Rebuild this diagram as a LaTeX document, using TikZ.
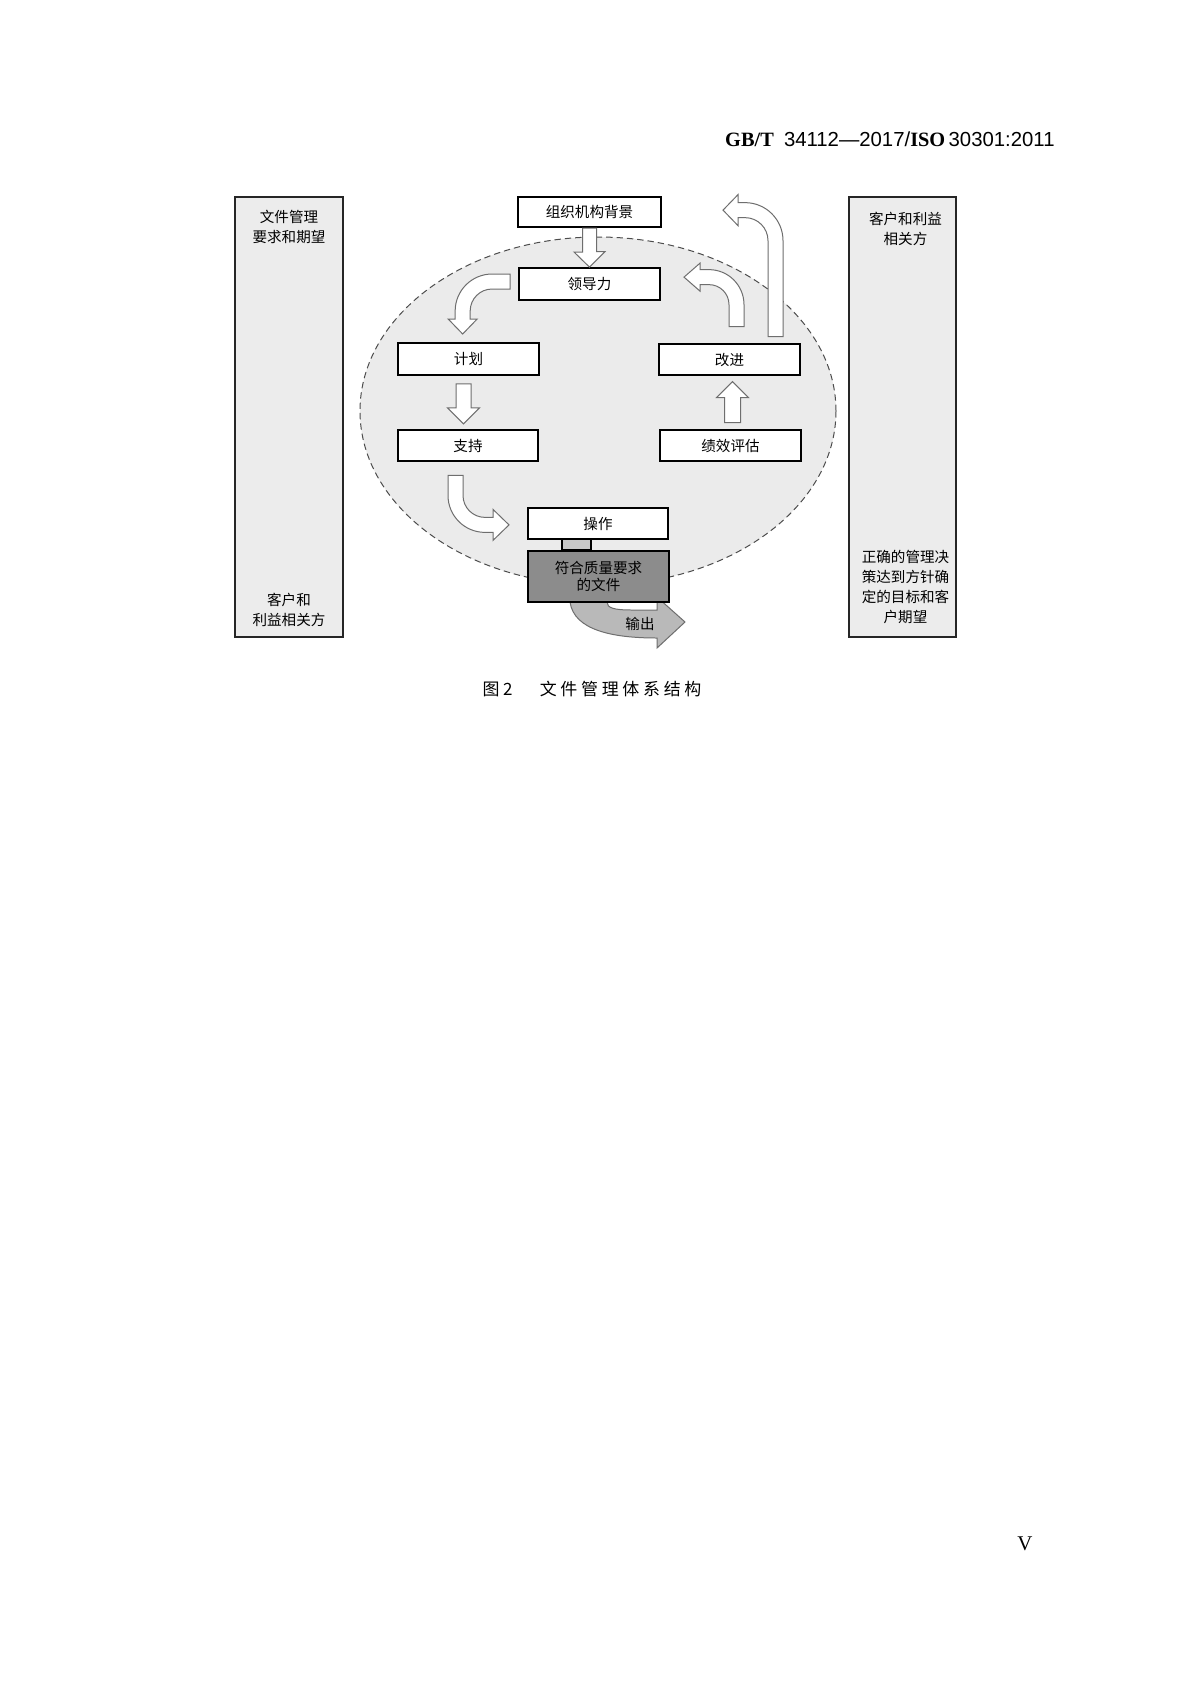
\documentclass[tikz,border=0pt]{standalone}
\usepackage{fontspec}
\setmainfont{Liberation Serif}
\newfontfamily\cjk{Noto Sans CJK SC}
\newfontfamily\capfont[LetterSpace=22]{Noto Sans CJK SC}
\newfontfamily\hsans{Liberation Sans}
\usetikzlibrary{calc}
\definecolor{panelgray}{RGB}{236,236,236}
\definecolor{ringgray}{RGB}{235,235,235}
\definecolor{docgray}{RGB}{140,140,140}
\definecolor{outgray}{RGB}{185,185,185}
\definecolor{linkgray}{RGB}{200,200,200}
\definecolor{edgegray}{RGB}{110,110,110}

\begin{document}
\begin{tikzpicture}[x=0.1763mm,y=0.1763mm]
\tikzstyle{every node}+=[inner sep=0pt]
\tikzstyle{stagebox}=[draw=black,line width=1pt,fill=white,minimum width=24.8mm,minimum height=5.6mm,font=\cjk\fontsize{7.3}{9}\selectfont]
\tikzstyle{sidepanel}=[draw=black!85,line width=0.9pt,fill=panelgray,minimum width=19mm,minimum height=77.6mm]
\tikzstyle{panelnote}=[align=center,font=\cjk\fontsize{7.3}{10}\selectfont]
\tikzstyle{blockarrow}=[draw=edgegray,line width=0.5pt,fill=white,line join=miter]
\fill [white] (0,0) rectangle (1191,-1684);
\node [anchor=base east,font=\fontsize{10.2}{12}\selectfont] (hdr) at (1055,-146) {\textbf{GB/T}\hspace{0.5em}{\hsans 34112—2017/}\textbf{ISO}\,{\hsans 30301:2011}};
\draw [draw=black!70,fill=ringgray,line width=0.5pt,dash pattern=on 3.2pt off 2pt] (598,-411) ellipse (238 and 174);
\node [sidepanel] (lp) at (289,-417) {};
\node [sidepanel] (rp) at (902.5,-417) {};
\node [panelnote,anchor=north] (lptop) at ($(lp.north)+(0,-14)$) {文件管理\\要求和期望};
\node [panelnote,anchor=south] (lpbot) at ($(lp.south)+(0,11)$) {客户和\\利益相关方};
\node [panelnote,anchor=north] (rptop) at ($(rp.north)+(3,-16)$) {客户和利益\\相关方};
\node [panelnote,anchor=south] (rpbot) at ($(rp.south)+(3,14)$) {正确的管理决\\策达到方针确\\定的目标和客\\户期望};
\node [stagebox,minimum width=25.2mm,minimum height=5.3mm] (ctx) at (589.5,-212) {组织机构背景};
\node [stagebox] (lead) at (589.5,-284) {领导力};
\node [stagebox] (plan) at (468.5,-359) {计划};
\node [stagebox] (supp) at (468,-445.5) {支持};
\node [stagebox] (imp) at (729.5,-359.5) {改进};
\node [stagebox] (eval) at (730.5,-445.5) {绩效评估};
\node [stagebox,minimum height=5.4mm] (ops) at (598,-523.5) {操作};
\draw [draw=edgegray,line width=0.5pt,fill=outgray] (598.5,-602) ++(-28.5,0) .. controls +(4,-28) and +(-45,0) .. ++(87,-36) -- ++(0,-10) -- ++(28,26) -- ++(-28,25) -- ++(0,-13) -- ++(-25,0) .. controls +(-18,0) and +(0,-6) .. ++(-25,8) -- cycle;
\node [font=\cjk\fontsize{7.3}{9}\selectfont] (outlbl) at (640,-624) {输出};
\node [stagebox,fill=docgray,minimum height=9mm,align=center,font=\cjk\fontsize{7.3}{8.5}\selectfont] (doc) at (598.5,-576.5) {符合质量要求\\的文件};
\draw [draw=black,line width=0.6pt,fill=linkgray] ($(ops.south)+(-36,0)$) rectangle ($(doc.north)+(-7.5,0)$);
\draw [blockarrow] ($(ctx.south)+(-7,0)$) -- ++(0,-24) -- ++(-8.5,0) -- (lead.north) -- ++(15.5,15.5) -- ++(-8.5,0) -- ($(ctx.south)+(7,0)$) -- cycle;
\draw [blockarrow] ($(lead.west)+(-8,10)$) -- ++(-18,0) arc [start angle=90,end angle=180,radius=37] -- ++(0,-8) -- ++(-7,0) -- ++(14.5,-15) -- ++(14.5,15) -- ++(-7,0) -- ++(0,8) arc [start angle=180,end angle=90,radius=22] -- ++(18,0) -- cycle;
\draw [blockarrow] ($(plan.south)+(-12.5,-8)$) -- ++(0,-24) -- ++(-8.5,0) -- ++(16,-16) -- ++(16,16) -- ++(-8.5,0) -- ++(0,24) -- cycle;
\draw [blockarrow] ($(supp.south)+(-20,-13)$) -- ++(0,-20) arc [start angle=180,end angle=270,radius=37] -- ++(8,0) -- ++(0,-8) -- ++(16,15.5) -- ++(-16,15.5) -- ++(0,-8) -- ++(-8,0) arc [start angle=270,end angle=180,radius=22] -- ++(0,20) -- cycle;
\draw [blockarrow] ($(eval.north)+(-6,6)$) -- ++(0,25) -- ++(-8,0) -- ++(16,16) -- ++(16,-16) -- ++(-8,0) -- ++(0,-25) -- cycle;
\draw [blockarrow] ($(imp.north)+(14.5,16)$) -- ++(0,22) arc [start angle=0,end angle=90,radius=35] -- ++(-9,0) -- ++(0,6.5) -- ++(-16,-14) -- ++(16,-14) -- ++(0,6.5) -- ++(9,0) arc [start angle=90,end angle=0,radius=20] -- ++(0,-22) -- cycle;
\draw [blockarrow] ($(imp.north)+(53.5,6)$) -- ++(0,96) arc [start angle=0,end angle=90,radius=38] -- ++(-7,0) -- ++(0,8) -- ++(-15,-15.5) -- ++(15,-15.5) -- ++(0,8) -- ++(7,0) arc [start angle=90,end angle=0,radius=23] -- ++(0,-96) -- cycle;
\node [font=\capfont\fontsize{8.5}{10}\selectfont] (cap) at (592,-689) {图2\hspace{1.6em}文件管理体系结构};
\node [font=\fontsize{10.5}{12}\selectfont] (pgno) at (1025,-1544) {V};
\end{tikzpicture}
\end{document}
